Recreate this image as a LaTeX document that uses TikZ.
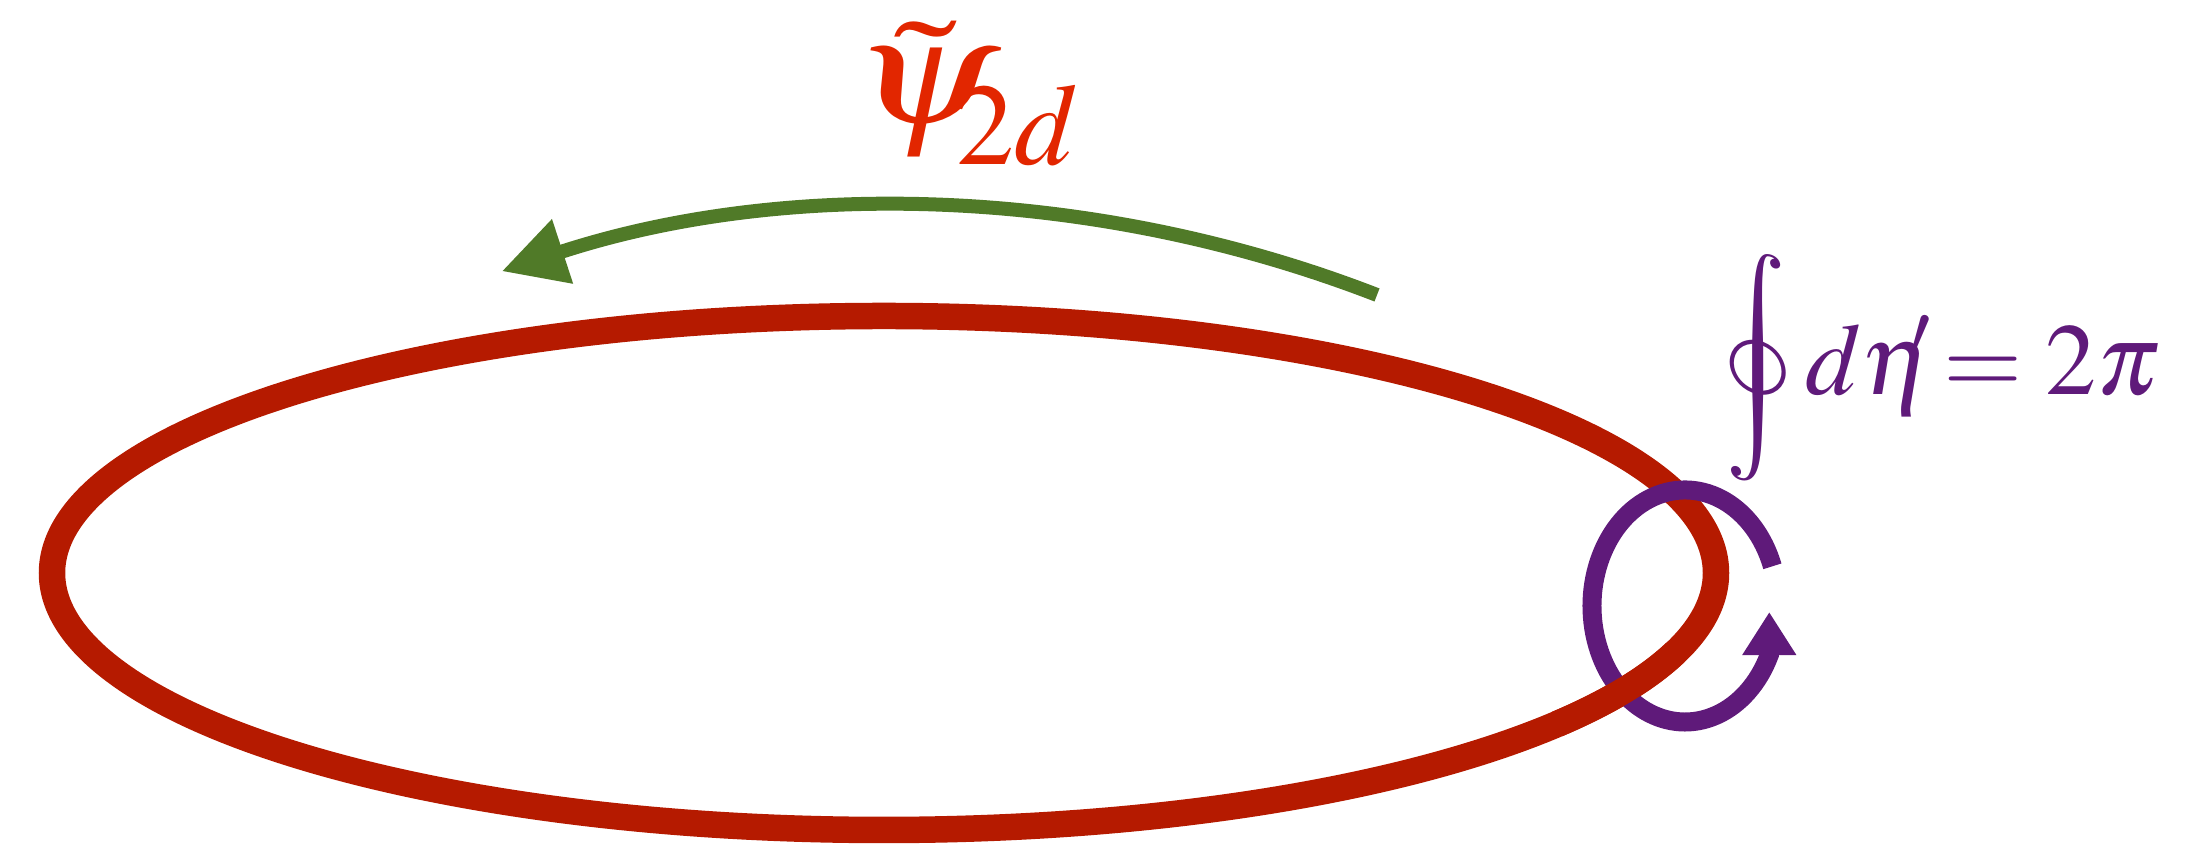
\documentclass[tikz,border=0pt]{standalone}
\usepackage{mathptmx}
\usepackage{graphicx}
\usetikzlibrary{arrows.meta}
\definecolor{vortexred}{RGB}{181,26,0}
\definecolor{labelred}{RGB}{226,38,0}
\definecolor{ringpurple}{RGB}{95,26,122}
\definecolor{flowgreen}{RGB}{80,122,40}
\font\cmexbig=cmex10 at 29pt

\begin{document}
\begin{tikzpicture}[
  vortexline/.style={draw=vortexred, line width=0.265cm},
  windring/.style={draw=ringpurple, line width=0.19cm, -{Triangle[length=0.43cm, width=0.51cm]}},
  flowarrow/.style={draw=flowgreen, line width=0.14cm, -{Triangle[length=0.64cm, width=0.64cm]}},
  psilabel/.style={text=labelred, inner sep=0pt, font=\fontsize{43}{50}\selectfont},
  eqlabel/.style={text=ringpurple, inner sep=0pt, font=\fontsize{29}{35}\selectfont}
]
  \useasboundingbox (0,0) rectangle (22.07,8.47);
  \coordinate (ctr) at (8.84,2.74);
  \coordinate (ring) at (16.85,2.41);
  \coordinate (flowtail) at (13.77,5.52);

  % vortex line, the ring passes over it at the top
  \draw[vortexline] (ctr) ellipse [x radius=8.32, y radius=2.57];
  \draw[windring] ([shift={(20:0.93 and 1.16)}]ring) arc[start angle=20, end angle=335, x radius=0.93, y radius=1.16] -- ++(0,0.43);
  % ... and under it at the bottom
  \draw[vortexline] ([shift={(-36:8.32 and 2.57)}]ctr) arc[start angle=-36, end angle=-18, x radius=8.32, y radius=2.57];

  \draw[flowarrow] (flowtail) arc[start angle=68.8, end angle=108.1, radius=13.02];

  \node[psilabel, anchor=base west] (psi) at (8.53,7.23) {\scalebox{1.25}[1]{$\rlap{$\tilde{\phantom{\psi}}$}\psi$}\kern-0.42cm\raisebox{-0.41cm}{\fontsize{33}{40}\selectfont$2d$}};
  \node[eqlabel, xslant=-0.2, transform shape] (oint) at (17.33,4.79) {\cmexbig\char"49};
  \node[eqlabel, anchor=base west] (eq) at (18.05,4.52) {$d\eta\mkern-4mu{}^{\prime}\mkern-2mu = 2\pi$};
\end{tikzpicture}
\end{document}
